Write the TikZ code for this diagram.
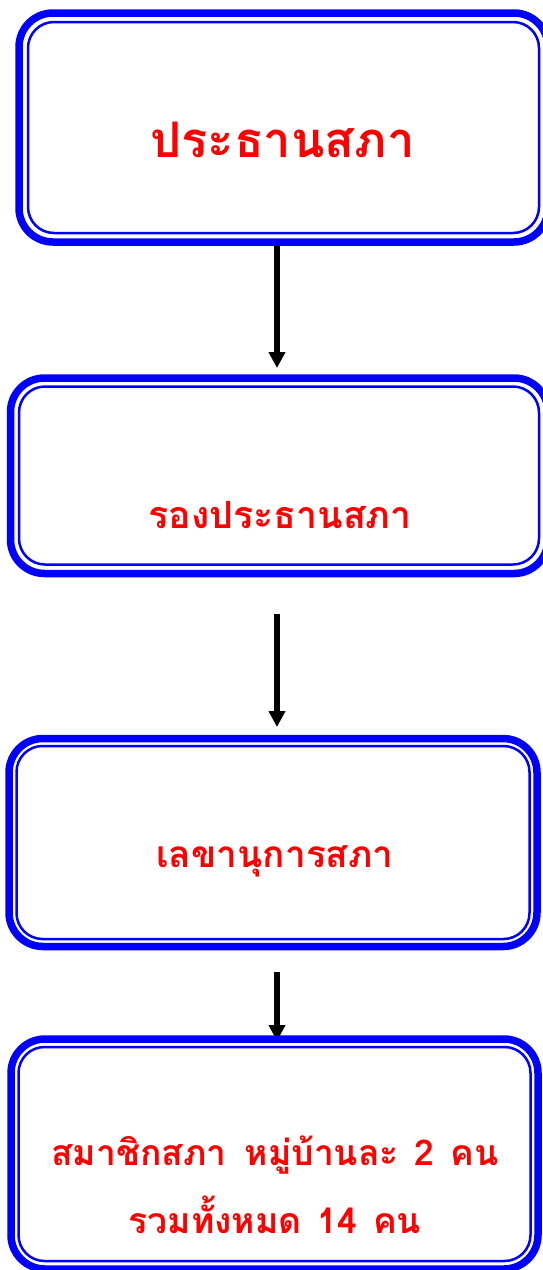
\documentclass[tikz,border=0pt]{standalone}
\usepackage{fontspec}
\newfontfamily\thaifont[Script=Thai]{Loma}
\usetikzlibrary{arrows.meta,backgrounds}

\begin{document}
\begin{tikzpicture}[x=1pt,y=-1pt,
    frame/.style={draw=blue, line width=7.5pt, rounded corners=34pt, outer sep=0pt, inner sep=0pt},
    innerline/.style={draw=blue, line width=2.5pt, rounded corners=26pt},
    post/.style={text=red, anchor=base, inner sep=0pt, font=\thaifont\bfseries},
    flow/.style={draw=black, line width=6pt, -{Triangle[length=16pt,width=16pt]}}]
    \useasboundingbox (0,0) rectangle (542,1270);
    \coordinate (axis) at (277,0);
    % boxes
    \node[frame, minimum width=529pt, minimum height=229pt] (pres) at (283.5,127.5) {};
    \node[frame, minimum width=537.5pt, minimum height=195.5pt] (vice) at (279.25,475.75) {};
    \node[frame, minimum width=528pt, minimum height=208pt] (sec) at (273,842.5) {};
    \node[frame, minimum width=527pt, minimum height=230pt] (memb) at (274.5,1154) {};
    \draw[innerline] ([shift={(9,9)}]pres.north west) rectangle ([shift={(-9,-9)}]pres.south east);
    \draw[innerline] ([shift={(8.5,8.5)}]vice.north west) rectangle ([shift={(-9,-9)}]vice.south east);
    \draw[innerline] ([shift={(7.5,7.5)}]sec.north west) rectangle ([shift={(-7.5,-7.5)}]sec.south east);
    \draw[innerline] ([shift={(7.5,8)}]memb.north west) rectangle ([shift={(-7.5,-8)}]memb.south east);
    % texts
    \node[post, font=\thaifont\bfseries\fontsize{49}{58}\selectfont] (prest) at (282.5,157) {ประธานสภา};
    \node[post, font=\thaifont\bfseries\fontsize{37.5}{44}\selectfont] (vicet) at (280,528) {รองประธานสภา};
    \node[post, font=\thaifont\bfseries\fontsize{37}{44}\selectfont] (sect) at (275,867) {เลขานุการสภา};
    \node[post, font=\thaifont\bfseries\fontsize{35.5}{42}\selectfont] (membt) at (275,1165) {สมาชิกสภา\hspace{0.5em}หมู่บ้านละ\hspace{0.45em}2\hspace{0.45em}คน};
    \node[post, font=\thaifont\bfseries\fontsize{35.5}{42}\selectfont] (membu) at (275,1233) {รวมทั้งหมด\hspace{0.45em}14\hspace{0.45em}คน};
    % arrows
    \begin{scope}[on background layer]
    \draw[flow, shorten >=10pt] (pres.south -| axis) -- (vice.north -| axis);
    \draw[flow, shorten <=40.5pt, shorten >=11.5pt] (vice.south -| axis) -- (sec.north -| axis);
    \draw[flow, shorten <=25.5pt, shorten >=-2pt] (sec.south -| axis) -- (memb.north -| axis);
    \end{scope}
\end{tikzpicture}
\end{document}
